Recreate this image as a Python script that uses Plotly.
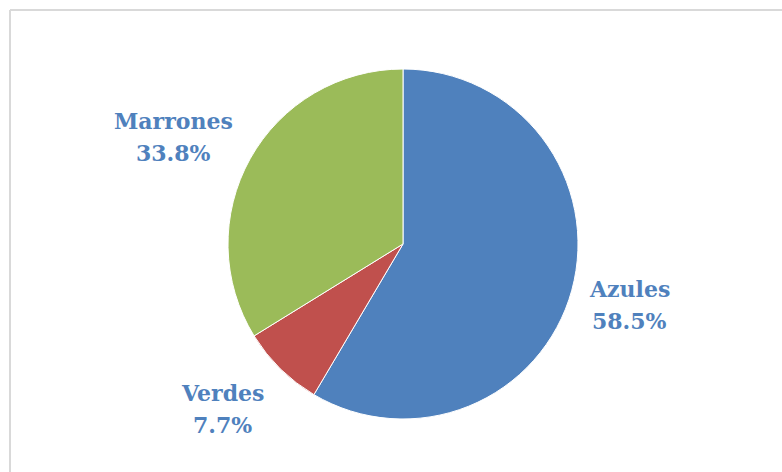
import plotly.graph_objects as go

labels = ["Azules", "Verdes", "Marrones"]
values = [58.5, 7.7, 33.8]
colors = ["#4F81BD", "#C0504D", "#9BBB59"]

W, H = 782, 472

fig = go.Figure()
fig.add_trace(go.Pie(
    labels=labels,
    values=values,
    sort=False,
    direction="clockwise",
    rotation=0,
    textinfo="none",
    hoverinfo="label+percent",
    marker=dict(colors=colors, line=dict(color="white", width=1)),
    domain=dict(x=[228 / W, 578 / W], y=[(H - 419) / H, (H - 69) / H]),
    showlegend=False,
))

# label positions in pixels: centre x, centre y of the name line, centre y of the percent line
label_pos = {"Azules": (629, 289, 321), "Verdes": (222, 393, 425), "Marrones": (173, 121, 153)}
lab_font = dict(family="DejaVu Serif", size=22, color="#4F81BD", weight="bold")
for lab, val in zip(labels, values):
    x, y1, y2 = label_pos[lab]
    for yy, txt in ((y1, lab), (y2, f"{val:.1f}%")):
        fig.add_annotation(x=x / W, y=(H - yy) / H, xref="paper", yref="paper",
                           xanchor="center", yanchor="middle",
                           text=txt, showarrow=False, font=lab_font)

# chart-area frame: only the top and left edges are in view
border = dict(color="#D9D9D9", width=2)
fig.add_shape(type="line", xref="paper", yref="paper",
              x0=10 / W, x1=1, y0=(H - 10) / H, y1=(H - 10) / H, line=border)
fig.add_shape(type="line", xref="paper", yref="paper",
              x0=10 / W, x1=10 / W, y0=0, y1=(H - 10) / H, line=border)

fig.update_layout(
    width=W, height=H,
    margin=dict(l=0, r=0, t=0, b=0),
    paper_bgcolor="white",
    plot_bgcolor="white",
)

fig.write_html("out.html", config={"displayModeBar": False},
               post_script="document.body.style.margin='0';")
